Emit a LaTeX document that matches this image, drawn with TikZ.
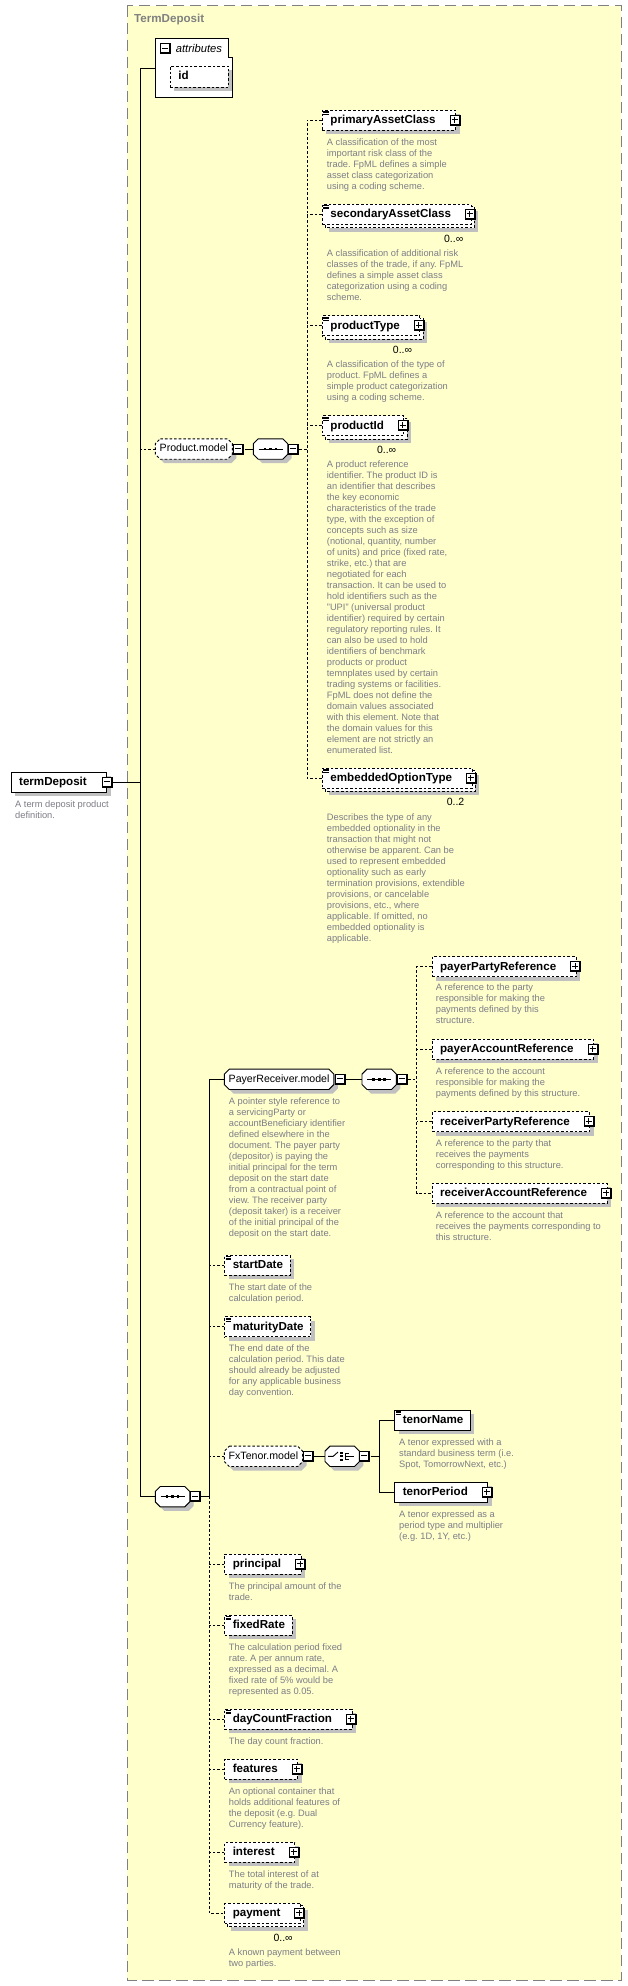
\documentclass[tikz,border=0pt]{standalone}
\usepackage{fontspec}
\setmainfont{Liberation Sans}
\usetikzlibrary{calc,shadows}
\pgfdeclarelayer{bg}
\pgfdeclarelayer{shad}
\pgfsetlayers{bg,shad,main}
\frenchspacing
\definecolor{ybg}{RGB}{255,255,204}
\definecolor{sgray}{RGB}{192,192,192}
\definecolor{dgray}{RGB}{125,125,135}
\definecolor{fgray}{RGB}{128,128,128}
\newcommand\lblfont{\fontsize{11.6}{14}\selectfont\bfseries}
\newcommand\mdlfont{\fontsize{10.6}{13}\selectfont}
\newcommand\descfont{\fontsize{9.3}{11}\selectfont\frenchspacing}
\newcommand\multfont{\fontsize{10.5}{12}\selectfont}
\newcommand\attrfont{\fontsize{11.2}{13}\selectfont\itshape}
\newcommand\titlefont{\fontsize{11.6}{14}\selectfont\bfseries}
\tikzset{
  conn/.style={draw=black, line width=0.9pt},
  optl/.style={dash pattern=on 2.6pt off 2pt},
  shd/.style={drop shadow={shadow xshift=4pt, shadow yshift=-4pt, fill=sgray, opacity=1}},
  elem/.style={rectangle, draw=black, line width=0.9pt, fill=white, minimum height=20pt,
    inner sep=0pt, text height=9pt, text depth=2.4pt, anchor=west, font=\lblfont,
    execute at begin node={\hspace*{8pt}}, execute at end node={\hspace*{7pt}}},
  elemp/.style={elem, execute at end node={\hspace*{13pt}}},
  octn/.style={rectangle, draw=none, minimum height=20pt, inner ysep=0pt, inner xsep=4.2pt,
    text height=8pt, text depth=2.2pt, anchor=west, font=\mdlfont},
  compn/.style={rectangle, draw=none, minimum width=34pt, minimum height=20pt, inner sep=0pt, anchor=west},
  iconbase/.style={rectangle, draw=none, fill=black, minimum size=11pt, inner sep=0pt},
  plusicon/.style={iconbase, path picture={
    \fill[white] ($(path picture bounding box.north west)+(1pt,-1pt)$) rectangle ($(path picture bounding box.south east)+(-2pt,2pt)$);
    \draw[line width=1pt] ($(path picture bounding box.center)+(-3.5pt,0.5pt)$) -- ($(path picture bounding box.center)+(2.5pt,0.5pt)$);
    \draw[line width=1pt] ($(path picture bounding box.center)+(-0.5pt,3.5pt)$) -- ($(path picture bounding box.center)+(-0.5pt,-2.5pt)$);}},
  minusicon/.style={iconbase, path picture={
    \fill[white] ($(path picture bounding box.north west)+(1pt,-1pt)$) rectangle ($(path picture bounding box.south east)+(-2pt,2pt)$);
    \draw[line width=1pt] ($(path picture bounding box.center)+(-3.5pt,0.5pt)$) -- ($(path picture bounding box.center)+(2.5pt,0.5pt)$);}},
  desc/.style={anchor=north west, inner sep=0pt, font=\descfont, text=dgray, align=left},
  mult/.style={anchor=base east, inner sep=0pt, font=\multfont, text=black},
}
\newcommand\octp[4]{\path[#1] ($(#2.north west)+(#3+5pt,#4)$) -- ($(#2.north east)+(#3-5pt,#4)$) -- ($(#2.north east)+(#3,#4-5pt)$) -- ($(#2.south east)+(#3,#4+5pt)$) -- ($(#2.south east)+(#3-5pt,#4)$) -- ($(#2.south west)+(#3+5pt,#4)$) -- ($(#2.south west)+(#3,#4+5pt)$) -- ($(#2.north west)+(#3,#4-5pt)$) -- cycle;}
\newcommand\octshape[2]{\begin{pgfonlayer}{shad}\octp{fill=sgray}{#1}{4pt}{-4pt}\octp{draw=black,line width=0.9pt,fill=white,#2}{#1}{0pt}{0pt}\end{pgfonlayer}}
\newcommand\multibox[1]{\begin{pgfonlayer}{shad}
  \fill[sgray] ($(#1.north west)+(7pt,-7pt)$) rectangle ($(#1.south east)+(7pt,-7pt)$);
  \draw[draw=black, line width=0.9pt, fill=white, dash pattern=on 2.6pt off 2pt] ($(#1.north west)+(3pt,-3pt)$) rectangle ($(#1.south east)+(3pt,-3pt)$);
\end{pgfonlayer}}
\newcommand\eqicon[1]{\foreach \d in {1.6pt,3.1pt,4.6pt}{\draw[line width=0.65pt] ($(#1.north west)+(1.2pt,-\d)$) -- ++(5.5pt,0pt);}}
\newcommand\seqsym[1]{\draw[line width=1pt] ($(#1.center)+(-12pt,0pt)$) -- ($(#1.center)+(12pt,0pt)$);
  \foreach \dx in {-5.5pt,0pt,5.5pt}{\fill ($(#1.center)+(\dx,0pt)+(-1.3pt,-1.3pt)$) rectangle ++(2.6pt,2.6pt);}}
\newcommand\chosym[1]{\draw[line width=0.9pt] ($(#1.center)+(-14pt,0pt)$) -- ($(#1.center)+(-9pt,0pt)$) -- ($(#1.center)+(-4.2pt,4.3pt)$);
  \foreach \dy in {3.3pt,0pt,-3.3pt}{\fill ($(#1.center)+(-1.8pt,\dy)+(0pt,-1.1pt)$) rectangle ++(2.2pt,2.2pt);}
  \draw[line width=0.9pt] ($(#1.center)+(2.8pt,3.3pt)$) -- ($(#1.center)+(2.8pt,-3.3pt)$);
  \draw[line width=0.9pt] ($(#1.center)+(2.8pt,3.3pt)$) -- ++(4.2pt,0pt);
  \draw[line width=0.9pt] ($(#1.center)+(2.8pt,-3.3pt)$) -- ++(4.2pt,0pt);
  \draw[line width=0.9pt] ($(#1.center)+(2.8pt,0pt)$) -- ++(8.5pt,0pt);}
\begin{document}
\begin{tikzpicture}[x=1pt,y=-1pt]
\useasboundingbox (0,0) rectangle (628,1986);
\begin{pgfonlayer}{bg}
\fill[white] (0,0) rectangle (628,1986);
\draw[fgray, line width=1pt, dash pattern=on 11.5pt off 5.5pt, fill=ybg] (127.3,5.7) rectangle (621,1980);
\end{pgfonlayer}
\node[anchor=base west, inner sep=0pt, font=\titlefont, text=fgray] (title) at (134,23) {TermDeposit};

% attributes
\node[rectangle, minimum width=77pt, minimum height=59pt, inner sep=0pt, anchor=north west] (attr) at (155.3,38.3) {};
\begin{pgfonlayer}{shad}
\draw[draw=black, line width=0.9pt, fill=white] (attr.north west) -- ($(attr.north east)+(-4pt,0pt)$) -- ($(attr.north east)+(-4pt,-19pt)$) -- ($(attr.north east)+(0pt,-19pt)$) -- (attr.south east) -- (attr.south west) -- cycle;
\end{pgfonlayer}
\node[minusicon] (attr-m) at (165.5,48.5) {};
\node[anchor=base west, inner sep=0pt, font=\attrfont] (attr-t) at (175.7,52.3) {attributes};
\node[elem, optl, shd, minimum height=21pt, execute at end node={\hspace*{32.7pt}}] (id) at (170,76.5) {id};

% termDeposit
\node[elemp, shd] (td) at (10.7,782) {termDeposit};
\node[minusicon] (td-m) at ($(td.east)+(0.3pt,0pt)$) {};
\node[desc] (td-d) at (15,800.5) {A term deposit product\\definition.};

% Product.model
\node[octn] (pmod) at (155.3,449) {Product.model};
\octshape{pmod}{dash pattern=on 2.6pt off 2pt}
\node[minusicon] (pmod-m) at ($(pmod.east)+(6.5pt,0pt)$) {};
\node[compn] (pseq) at (253.3,449) {};
\octshape{pseq}{}
\seqsym{pseq}
\node[minusicon] (pseq-m) at ($(pseq.east)+(6pt,0pt)$) {};

\node[elemp, optl, shd] (pac) at (322,120) {primaryAssetClass};
\eqicon{pac}
\node[plusicon] (pac-p) at ($(pac.east)+(-1pt,0pt)$) {};
\node[desc] (pac-d) at (326.7,138.5) {A classification of the most\\important risk class of the\\trade. FpML defines a simple\\asset class categorization\\using a coding scheme.};

\node[elemp, optl] (sac) at (322,214.3) {secondaryAssetClass};
\multibox{sac}
\eqicon{sac}
\node[plusicon] (sac-p) at ($(sac.east)+(-1pt,0pt)$) {};
\node[mult] (sac-n) at ($(sac.south east)+(-8pt,-17.3pt)$) {0..∞};
\node[desc] (sac-d) at (326.7,249.5) {A classification of additional risk\\classes of the trade, if any. FpML\\defines a simple asset class\\categorization using a coding\\scheme.};

\node[elemp, optl] (pt) at (322,325.7) {productType};
\multibox{pt}
\eqicon{pt}
\node[plusicon] (pt-p) at ($(pt.east)+(-1pt,0pt)$) {};
\node[mult] (pt-n) at ($(pt.south east)+(-8pt,-17.3pt)$) {0..∞};
\node[desc] (pt-d) at (326.7,360.5) {A classification of the type of\\product. FpML defines a\\simple product categorization\\using a coding scheme.};

\node[elemp, optl] (pid) at (322,425.7) {productId};
\multibox{pid}
\eqicon{pid}
\node[plusicon] (pid-p) at ($(pid.east)+(-1pt,0pt)$) {};
\node[mult] (pid-n) at ($(pid.south east)+(-8pt,-17.3pt)$) {0..∞};
\node[desc] (pid-d) at (326.7,460.5) {A product reference\\identifier. The product ID is\\an identifier that describes\\the key economic\\characteristics of the trade\\type, with the exception of\\concepts such as size\\(notional, quantity, number\\of units) and price (fixed rate,\\strike, etc.) that are\\negotiated for each\\transaction. It can be used to\\hold identifiers such as the\\"UPI" (universal product\\identifier) required by certain\\regulatory reporting rules. It\\can also be used to hold\\identifiers of benchmark\\products or product\\temnplates used by certain\\trading systems or facilities.\\FpML does not define the\\domain values associated\\with this element. Note that\\the domain values for this\\element are not strictly an\\enumerated list.};

\node[elemp, optl] (eot) at (322,778) {embeddedOptionType};
\multibox{eot}
\eqicon{eot}
\node[plusicon] (eot-p) at ($(eot.east)+(-1pt,0pt)$) {};
\node[mult] (eot-n) at ($(eot.south east)+(-8pt,-17.3pt)$) {0..2};
\node[desc] (eot-d) at (326.7,813.5) {Describes the type of any\\embedded optionality in the\\transaction that might not\\otherwise be apparent. Can be\\used to represent embedded\\optionality such as early\\termination provisions, extendible\\provisions, or cancelable\\provisions, etc., where\\applicable. If omitted, no\\embedded optionality is\\applicable.};

% main sequence
\node[compn] (mseq) at (155.3,1496.7) {};
\octshape{mseq}{}
\seqsym{mseq}
\node[minusicon] (mseq-m) at ($(mseq.east)+(6pt,0pt)$) {};

% PayerReceiver.model
\node[octn] (prm) at (224.3,1079.3) {PayerReceiver.model};
\octshape{prm}{}
\node[minusicon] (prm-m) at ($(prm.east)+(6.5pt,0pt)$) {};
\node[desc] (prm-d) at (228.7,1097.5) {A pointer style reference to\\a servicingParty or\\accountBeneficiary identifier\\defined elsewhere in the\\document. The payer party\\(depositor) is paying the\\initial principal for the term\\deposit on the start date\\from a contractual point of\\view. The receiver party\\(deposit taker) is a receiver\\of the initial principal of the\\deposit on the start date.};
\node[compn] (prs) at (362,1079.3) {};
\octshape{prs}{}
\seqsym{prs}
\node[minusicon] (prs-m) at ($(prs.east)+(6pt,0pt)$) {};

\node[elemp, optl, shd] (ppr) at (431.7,966.7) {payerPartyReference};
\node[plusicon] (ppr-p) at ($(ppr.east)+(-1pt,0pt)$) {};
\node[desc] (ppr-d) at (435.7,983.8) {A reference to the party\\responsible for making the\\payments defined by this\\structure.};
\node[elemp, optl, shd] (par) at (431.7,1049.3) {payerAccountReference};
\node[plusicon] (par-p) at ($(par.east)+(-1pt,0pt)$) {};
\node[desc] (par-d) at (435.7,1067.5) {A reference to the account\\responsible for making the\\payments defined by this structure.};
\node[elemp, optl, shd] (rpr) at (431.7,1121.7) {receiverPartyReference};
\node[plusicon] (rpr-p) at ($(rpr.east)+(-1pt,0pt)$) {};
\node[desc] (rpr-d) at (435.7,1139.5) {A reference to the party that\\receives the payments\\corresponding to this structure.};
\node[elemp, optl, shd] (rar) at (431.7,1193.3) {receiverAccountReference};
\node[plusicon] (rar-p) at ($(rar.east)+(-1pt,0pt)$) {};
\node[desc] (rar-d) at (435.7,1211.5) {A reference to the account that\\receives the payments corresponding to\\this structure.};

% dates
\node[elem, optl, shd] (sd) at (224.3,1265.3) {startDate};
\eqicon{sd}
\node[desc] (sd-d) at (228.7,1283.5) {The start date of the\\calculation period.};
\node[elem, optl, shd] (md) at (224.3,1326.7) {maturityDate};
\eqicon{md}
\node[desc] (md-d) at (228.7,1344.1) {The end date of the\\calculation period. This date\\should already be adjusted\\for any applicable business\\day convention.};

% FxTenor.model
\node[octn] (fxm) at (224.3,1456.3) {FxTenor.model};
\octshape{fxm}{dash pattern=on 2.6pt off 2pt}
\node[minusicon] (fxm-m) at ($(fxm.east)+(5.5pt,0pt)$) {};
\node[compn] (fxc) at (325,1456.3) {};
\octshape{fxc}{}
\chosym{fxc}
\node[minusicon] (fxc-m) at ($(fxc.east)+(5.5pt,0pt)$) {};
\node[elem, shd] (tn) at (394.3,1420) {tenorName};
\eqicon{tn}
\node[desc] (tn-d) at (399,1438.5) {A tenor expressed with a\\standard business term (i.e.\\Spot, TomorrowNext, etc.)};
\node[elemp, shd] (tp) at (394.3,1492.3) {tenorPeriod};
\node[plusicon] (tp-p) at ($(tp.east)+(-1pt,0pt)$) {};
\node[desc] (tp-d) at (399,1510.5) {A tenor expressed as a\\period type and multiplier\\(e.g. 1D, 1Y, etc.)};

% remaining elements
\node[elemp, optl, shd] (pr) at (224.3,1564.3) {principal};
\node[plusicon] (pr-p) at ($(pr.east)+(-1pt,0pt)$) {};
\node[desc] (pr-d) at (228.7,1582.1) {The principal amount of the\\trade.};
\node[elem, optl, shd] (fr) at (224.3,1625.3) {fixedRate};
\eqicon{fr}
\node[desc] (fr-d) at (228.7,1643.5) {The calculation period fixed\\rate. A per annum rate,\\expressed as a decimal. A\\fixed rate of 5\% would be\\represented as 0.05.};
\node[elemp, optl, shd] (dcf) at (224.3,1719.3) {dayCountFraction};
\eqicon{dcf}
\node[plusicon] (dcf-p) at ($(dcf.east)+(-1pt,0pt)$) {};
\node[desc] (dcf-d) at (228.7,1737.1) {The day count fraction.};
\node[elemp, optl, shd] (ft) at (224.3,1769) {features};
\node[plusicon] (ft-p) at ($(ft.east)+(-1pt,0pt)$) {};
\node[desc] (ft-d) at (228.7,1787.5) {An optional container that\\holds additional features of\\the deposit (e.g. Dual\\Currency feature).};
\node[elemp, optl, shd] (intr) at (224.3,1852.3) {interest};
\node[plusicon] (intr-p) at ($(intr.east)+(-1pt,0pt)$) {};
\node[desc] (intr-d) at (228.7,1870.5) {The total interest of at\\maturity of the trade.};
\node[elemp, optl] (pay) at (224.3,1913.3) {payment};
\multibox{pay}
\node[plusicon] (pay-p) at ($(pay.east)+(-1pt,0pt)$) {};
\node[mult] (pay-n) at ($(pay.south east)+(-8pt,-17.3pt)$) {0..∞};
\node[desc] (pay-d) at (228.7,1948.5) {A known payment between\\two parties.};

% connectors
\coordinate (t1) at (140.7,1496.7);
\draw[conn] (attr.west) -- (attr.west -| t1) -- (t1) -- (mseq.west);
\draw[conn] (td-m.east) -- (td-m.east -| t1);
\draw[conn,optl] (pmod.west) -- (pmod.west -| t1);

\draw[conn] (pmod-m.east) -- (pseq.west);
\coordinate (t3) at (307,449);
\draw[conn,optl] (pseq-m.east) -- (t3);
\draw[conn,optl] (pac.west) -- (pac.west -| t3) -- (eot.west -| t3) -- (eot.west);
\foreach \n in {sac,pt,pid}{\draw[conn,optl] (\n.west) -- (\n.west -| t3);}

\coordinate (t2) at (209.3,1496.7);
\draw[conn] (mseq-m.east) -- (t2);
\draw[conn] (prm.west) -- (prm.west -| t2) -- (t2);
\draw[conn,optl] (t2) -- (t2 |- pay.west) -- (pay.west);
\foreach \n in {sd,md,fxm,pr,fr,dcf,ft,intr}{\draw[conn,optl] (\n.west) -- (\n.west -| t2);}

\draw[conn] (prm-m.east) -- (prs.west);
\coordinate (t4) at (416.7,1079.3);
\draw[conn,optl] (prs-m.east) -- (t4);
\draw[conn,optl] (ppr.west) -- (ppr.west -| t4) -- (rar.west -| t4) -- (rar.west);
\foreach \n in {par,rpr}{\draw[conn,optl] (\n.west) -- (\n.west -| t4);}

\draw[conn] (fxm-m.east) -- (fxc.west);
\coordinate (t5) at (379.3,1456.3);
\draw[conn] (fxc-m.east) -- (t5);
\draw[conn] (tn.west) -- (tn.west -| t5) -- (tp.west -| t5) -- (tp.west);
\end{tikzpicture}
\end{document}
